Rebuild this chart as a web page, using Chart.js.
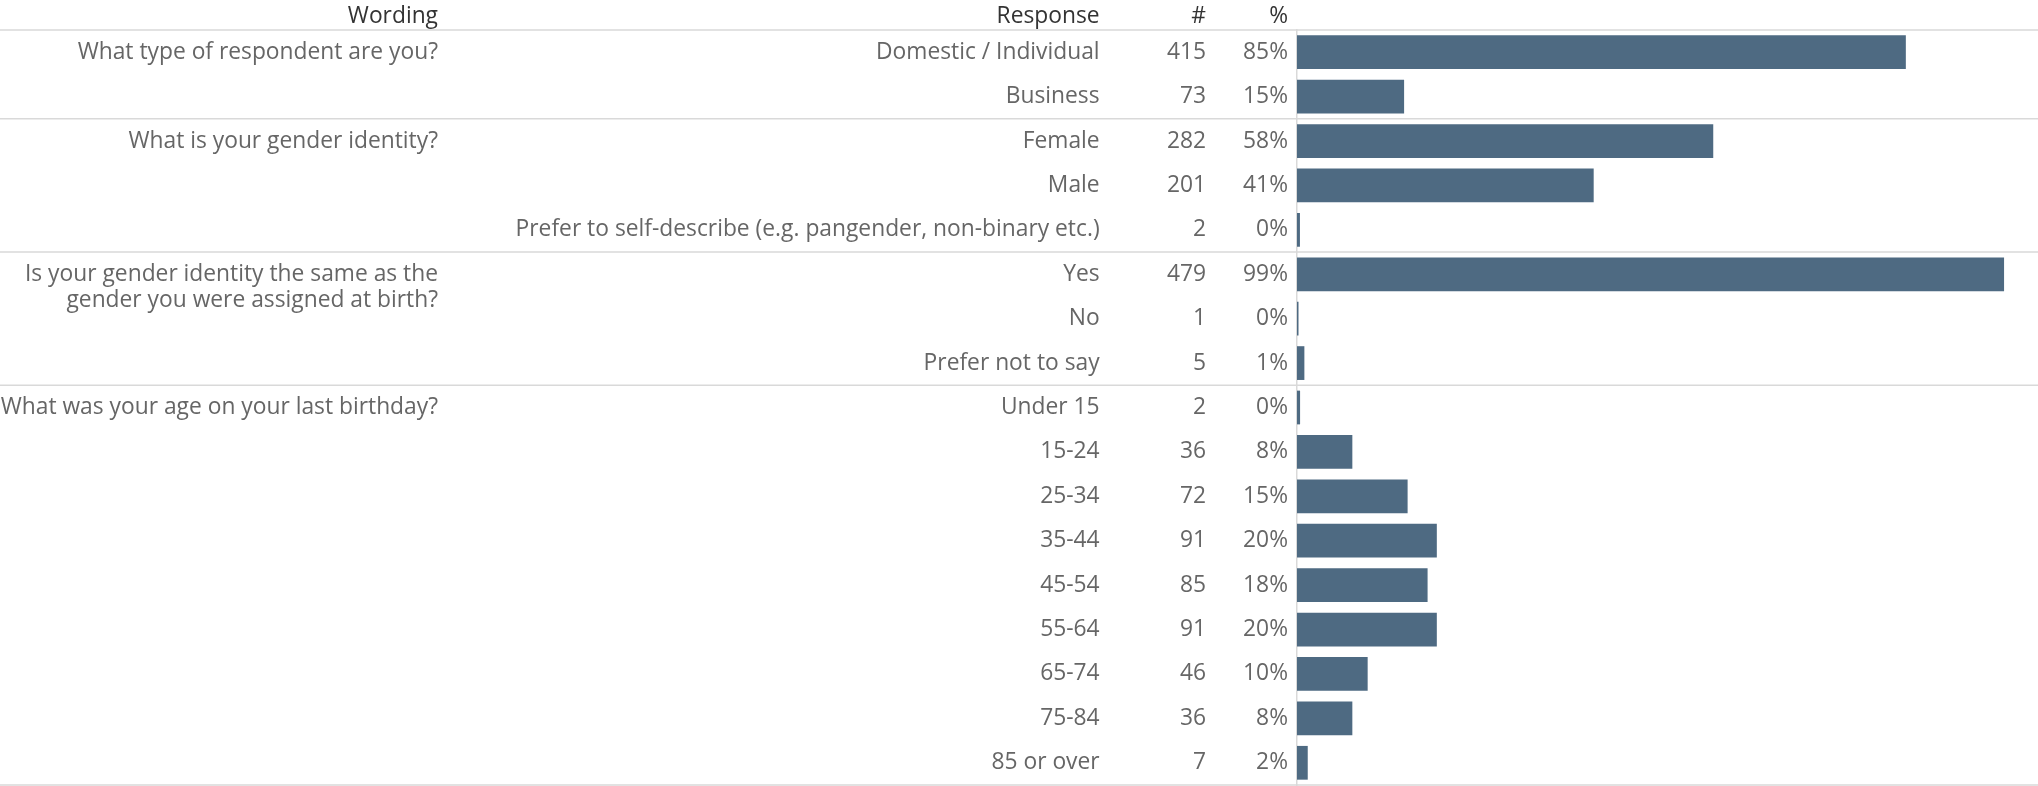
<!DOCTYPE html>
<html>
<head>
<meta charset="utf-8">
<script src="https://cdn.jsdelivr.net/npm/chart.js@4/dist/chart.umd.min.js"></script>
<style>
  html, body { margin: 0; padding: 0; background: #ffffff; }
  #wrap { position: relative; width: 2038px; height: 786px; }
</style>
</head>
<body>
<div id="wrap"><canvas id="chart"></canvas></div>
<script>
// Survey questions and how many response rows each one spans
const questions = [
  ['What type of respondent are you?'],
  ['What is your gender identity?'],
  ['Is your gender identity the same as the', 'gender you were assigned at birth?'],
  ['What was your age on your last birthday?']
];
const groupSizes = [2, 3, 3, 9];

const responses = [
  'Domestic / Individual', 'Business',
  'Female', 'Male', 'Prefer to self-describe (e.g. pangender, non-binary etc.)',
  'Yes', 'No', 'Prefer not to say',
  'Under 15', '15-24', '25-34', '35-44', '45-54', '55-64', '65-74', '75-84', '85 or over'
];
const counts = [415, 73, 282, 201, 2, 479, 1, 5, 2, 36, 72, 91, 85, 91, 46, 36, 7];
const percents = [85.04, 14.96, 58.14, 41.44, 0.41, 98.76, 0.21, 1.03, 0.43, 7.73, 15.45, 19.53, 18.24, 19.53, 9.87, 7.73, 1.50];

const headers = ['Wording', 'Response', '#', '%'];

const FONT = '"Open Sans", "Liberation Sans", Arial, sans-serif';
const FONT_SIZE = 22.8;
const TEXT = '#666666';
const HEAD = '#333333';
const RULE = '#d9d9d9';
const BAR = '#4e6a82';

const tickFont = { family: FONT, size: FONT_SIZE };

// Give each table column a fixed width and no extra vertical padding
function fixedWidth(w) {
  return function (scale) {
    scale.width = w;
    scale.paddingTop = 0;
    scale.paddingBottom = 0;
  };
}

// Header row, question wording and group rules
const tablePlugin = {
  id: 'surveyTable',
  afterDraw(chart) {
    const ctx = chart.ctx;
    const y = chart.scales.y;
    const area = chart.chartArea;
    const band = y.getPixelForValue(1) - y.getPixelForValue(0);
    ctx.save();

    // column headers
    ctx.font = FONT_SIZE + 'px ' + FONT;
    ctx.fillStyle = HEAD;
    ctx.textAlign = 'right';
    ctx.textBaseline = 'middle';
    const headY = area.top / 2 + 2;
    const colRight = s => s.right - s.options.ticks.padding;
    const wordRight = 438;
    ctx.fillText(headers[0], wordRight, headY);
    ctx.fillText(headers[1], colRight(chart.scales.yResp), headY);
    ctx.fillText(headers[2], colRight(chart.scales.yNum), headY);
    ctx.fillText(headers[3], colRight(chart.scales.y), headY);

    // question wording, aligned with the first response of each group
    ctx.fillStyle = TEXT;
    let row = 0;
    const boundaries = [y.getPixelForValue(0) - band / 2];
    questions.forEach((lines, gi) => {
      const cy = y.getPixelForValue(row);
      lines.forEach((line, li) => {
        ctx.fillText(line, wordRight, cy + li * 26.5);
      });
      row += groupSizes[gi];
      boundaries.push(y.getPixelForValue(row - 1) + band / 2);
    });

    // horizontal rules between question groups
    ctx.strokeStyle = RULE;
    ctx.lineWidth = 1.5;
    boundaries.forEach(by => {
      ctx.beginPath();
      ctx.moveTo(0, by);
      ctx.lineTo(chart.width, by);
      ctx.stroke();
    });
    ctx.restore();
  }
};

new Chart(document.getElementById('chart'), {
  type: 'bar',
  data: {
    labels: responses,
    datasets: [{
      data: percents,
      backgroundColor: BAR,
      borderWidth: 0,
      categoryPercentage: 1.0,
      barPercentage: 0.76,
      yAxisID: 'y',
      xAxisID: 'x'
    }]
  },
  options: {
    indexAxis: 'y',
    responsive: true,
    maintainAspectRatio: false,
    animation: false,
    devicePixelRatio: 1,
    layout: { padding: { top: 30, bottom: 1, left: 0, right: 0 } },
    plugins: { legend: { display: false }, tooltip: { enabled: false } },
    scales: {
      x: {
        type: 'linear',
        display: false,
        min: 0,
        max: 103.5
      },
      // percent column, next to the bars; its border is the bar baseline
      y: {
        axis: 'y',
        type: 'category',
        position: 'left',
        weight: 0,
        offset: true,
        labels: percents.map(p => Math.round(p) + '%'),
        grid: { display: false, drawTicks: false },
        border: { display: true, color: RULE, width: 1.5 },
        ticks: { autoSkip: false, padding: 9, color: TEXT, font: tickFont },
        afterFit: fixedWidth(82)
      },
      yNum: {
        axis: 'y',
        type: 'category',
        position: 'left',
        weight: 1,
        offset: true,
        labels: counts.map(String),
        grid: { display: false, drawTicks: false },
        border: { display: false },
        ticks: { autoSkip: false, padding: 9, color: TEXT, font: tickFont },
        afterFit: fixedWidth(106.4)
      },
      yResp: {
        axis: 'y',
        type: 'category',
        position: 'left',
        weight: 2,
        offset: true,
        labels: responses,
        grid: { display: false, drawTicks: false },
        border: { display: false },
        ticks: { autoSkip: false, padding: 9, color: TEXT, font: tickFont },
        afterFit: fixedWidth(1108.6)
      }
    }
  },
  plugins: [tablePlugin]
});
</script>
</body>
</html>
